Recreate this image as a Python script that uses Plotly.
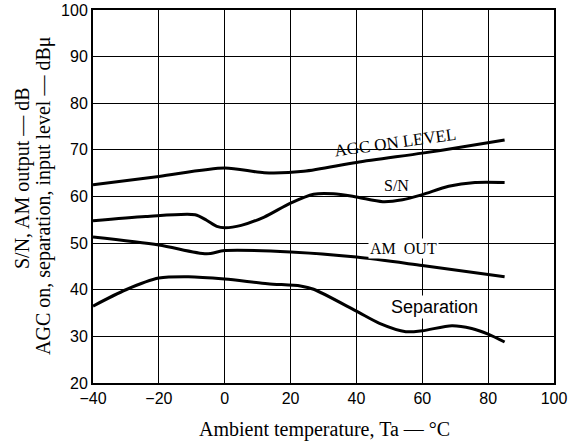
import plotly.graph_objects as go

# temperature (degC) and levels
agc_x = [-40, -20, 0, 12, 24, 40, 60, 72, 85]
agc_y = [62.5, 64.3, 66.1, 65.1, 65.4, 67.3, 69.3, 70.6, 72.1]

sn_x = [-40, -24, -9, -5.5, -2.4, 0, 5, 12, 20, 27, 33, 40, 48, 54, 60, 68, 76, 85]
sn_y = [54.8, 55.7, 56.1, 54.9, 53.6, 53.3, 53.8, 55.6, 58.6, 60.5, 60.6, 59.9, 58.9, 59.3, 60.4, 62.2, 63.0, 63.0]

am_x = [-40, -20, -5.5, 0, 20, 40, 60, 85]
am_y = [51.3, 49.6, 47.7, 48.4, 48.1, 47.0, 45.2, 42.8]

sep_x = [-40, -30, -20, -11, 0, 13, 23, 27, 40, 47, 55, 60, 69, 75, 80, 85]
sep_y = [36.5, 40.0, 42.5, 42.8, 42.3, 41.3, 40.8, 40.1, 35.4, 32.8, 31.0, 31.2, 32.3, 31.7, 30.5, 28.8]

labels = ["AGC ON LEVEL", "S/N", "AM  OUT", "Separation"]
label_x = [52, 52.3, 54.3, 63.6]
label_y = [71.5, 62.4, 48.8, 36.3]

x_ticks = [-40, -20, 0, 20, 40, 60, 80, 100]
y_ticks = [20, 30, 40, 50, 60, 70, 80, 90, 100]

SERIF = "Liberation Serif, Times New Roman, serif"
SANS = "Liberation Sans, Arial, sans-serif"

W, H = 577, 441
L, R, T, B = 93, 554, 10, 383  # plot box in page pixels

fig = go.Figure()
for xs, ys in [(agc_x, agc_y), (sn_x, sn_y), (am_x, am_y), (sep_x, sep_y)]:
    fig.add_trace(go.Scatter(
        x=xs, y=ys, mode="lines",
        line=dict(color="black", width=3, shape="spline", smoothing=0.8),
        showlegend=False,
    ))

# curve labels
fig.add_annotation(x=label_x[0], y=label_y[0], text=labels[0], showarrow=False,
                   textangle=-8, font=dict(family=SERIF, size=17, color="black"))
fig.add_annotation(x=label_x[1], y=label_y[1], text=labels[1], showarrow=False,
                   font=dict(family=SERIF, size=16, color="black"))
fig.add_annotation(x=label_x[2], y=label_y[2], text=labels[2].replace(" ", "&nbsp;"),
                   showarrow=False, bgcolor="white",
                   font=dict(family=SERIF, size=16, color="black"))
fig.add_annotation(x=label_x[3], y=label_y[3], text=labels[3], showarrow=False,
                   bgcolor="white", font=dict(family=SANS, size=18, color="black"))


def px_note(text, cx, cy, angle=0):
    # place a text centred on a page pixel position
    fig.add_annotation(xref="paper", yref="paper",
                       x=(cx - L) / (R - L), y=(B - cy) / (B - T),
                       xanchor="center", yanchor="middle",
                       text=text, showarrow=False, textangle=angle,
                       font=dict(family=SERIF, size=20, color="black"))


# axis titles
px_note("Ambient temperature, Ta — °C", 324, 429)
px_note("S/N, AM output — dB", 22, 178, -90)
px_note("AGC on, separation, input level — dBμ", 43, 196, -90)

fig.update_xaxes(
    range=[-40, 100], tickvals=x_ticks, ticks="", showgrid=True, automargin=False,
    gridcolor="black", gridwidth=1, showline=True, linecolor="black",
    linewidth=2, mirror=True, zeroline=False,
    tickfont=dict(family=SANS, size=16, color="black"),
)
fig.update_yaxes(
    range=[20, 100], tickvals=y_ticks, ticks="", showgrid=True, automargin=False,
    gridcolor="black", gridwidth=1, showline=True, linecolor="black",
    linewidth=2, mirror=True, zeroline=False,
    tickfont=dict(family=SANS, size=16, color="black"),
)
fig.update_layout(
    width=W, height=H,
    plot_bgcolor="white", paper_bgcolor="white",
    margin=dict(l=L, r=W - R, t=T, b=H - B),
)
# drop the browser's default body margin so the figure sits at the window corner
fig.write_html("out.html", config={"displayModeBar": False},
               post_script="document.body.style.margin='0';")
